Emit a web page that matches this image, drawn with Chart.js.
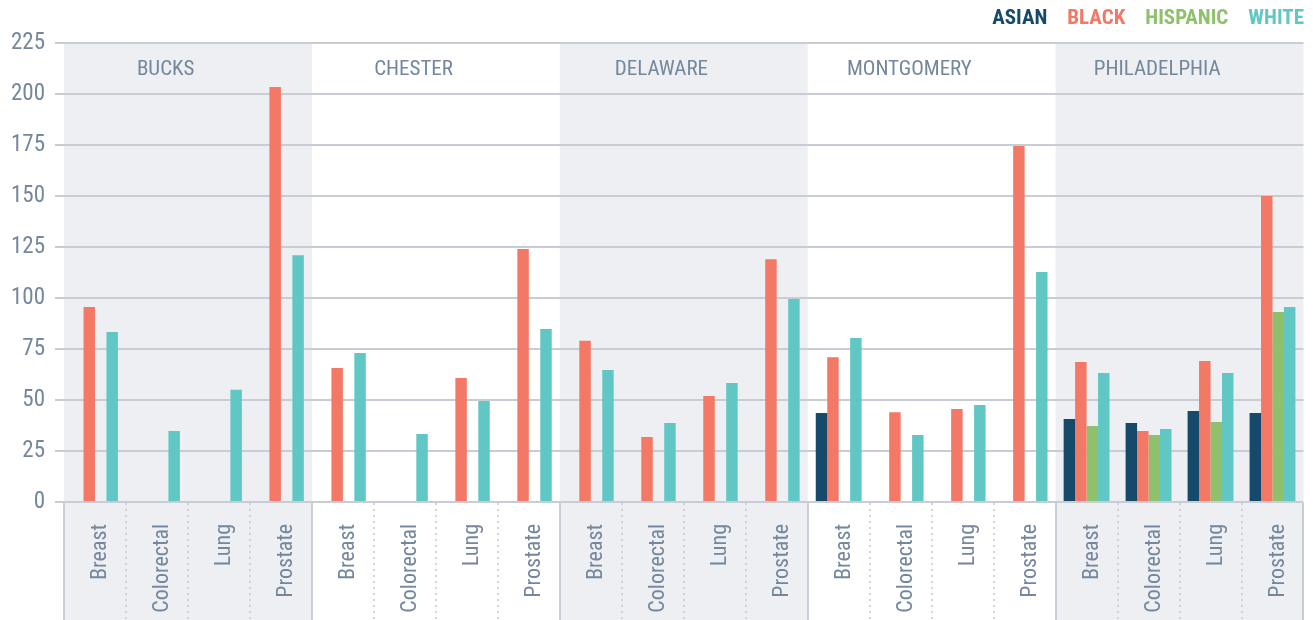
<!DOCTYPE html>
<html lang="en">
<head>
<meta charset="UTF-8">
<title>Cancer incidence by county and race</title>
<script src="https://cdn.jsdelivr.net/npm/chart.js@4.4.0/dist/chart.umd.min.js"></script>
<style>
  body { margin: 0; background: #fff; }
  #wrap { width: 1313px; height: 620px; position: relative; }
</style>
</head>
<body>
<div id="wrap"><canvas id="chart"></canvas></div>
<script>
// data
const counties = ['BUCKS', 'CHESTER', 'DELAWARE', 'MONTGOMERY', 'PHILADELPHIA'];
const cancers = ['Breast', 'Colorectal', 'Lung', 'Prostate'];
const yTicks = [0, 25, 50, 75, 100, 125, 150, 175, 200, 225];

// one value per county/cancer pair, in county order
const asian    = [null, null, null, null,  null, null, null, null,  null, null, null, null,  43.6, null, null, null,  40.7, 38.7, 44.6, 43.6];
const black    = [95.6, null, null, 203.4, 65.7, null, 60.8, 124,   79, 31.9, 52, 119,       71, 44, 45.6, 174.5,     68.6, 34.8, 69.1, 150];
const hispanic = [null, null, null, null,  null, null, null, null,  null, null, null, null,  null, null, null, null,  37.3, 32.8, 39.2, 93.1];
const white    = [83.3, 34.8, 55, 121,     73, 33.3, 49.5, 84.8,    64.7, 38.7, 58.3, 99.5,  80.4, 32.8, 47.5, 112.7, 63.2, 35.8, 63.2, 95.6];

const seriesNames = ['ASIAN', 'BLACK', 'HISPANIC', 'WHITE'];
const seriesColors = ['#154a6a', '#f47866', '#8fc06c', '#60c7c5'];

const labels = [];
counties.forEach(() => cancers.forEach(c => labels.push(c)));

const FONT = "'Roboto Condensed', 'Liberation Sans Narrow', Roboto, sans-serif";
const TEXT = '#75879c';

// shaded county bands, separators, county names and legend
const decor = {
    id: 'decor',
    beforeDraw(chart) {
        const { ctx, chartArea, scales: { x } } = chart;
        const half = (x.getPixelForValue(1) - x.getPixelForValue(0)) / 2;
        ctx.save();
        ctx.fillStyle = '#edeff3';
        counties.forEach((c, i) => {
            if (i % 2) return;
            const l = x.getPixelForValue(i * 4) - half;
            const r = x.getPixelForValue(i * 4 + 3) + half;
            ctx.fillRect(l, chartArea.top, r - l, chart.height - chartArea.top);
        });
        ctx.restore();
    },
    afterDraw(chart) {
        const { ctx, chartArea, scales: { x } } = chart;
        const half = (x.getPixelForValue(1) - x.getPixelForValue(0)) / 2;
        ctx.save();
        // separators below the axis
        for (let k = 0; k <= labels.length; k++) {
            const px = Math.round(k < labels.length ? x.getPixelForValue(k) - half : x.getPixelForValue(k - 1) + half);
            ctx.beginPath();
            if (k % 4 === 0) {
                ctx.strokeStyle = '#b9c1cb';
                ctx.lineWidth = 1.5;
                ctx.setLineDash([]);
            } else {
                ctx.strokeStyle = '#c3c8d0';
                ctx.lineWidth = 1.5;
                ctx.setLineDash([2, 4]);
            }
            ctx.moveTo(px, chartArea.bottom + 1);
            ctx.lineTo(px, chart.height);
            ctx.stroke();
        }
        ctx.setLineDash([]);
        // county names
        ctx.fillStyle = TEXT;
        ctx.font = '21px ' + FONT;
        ctx.textAlign = 'center';
        ctx.textBaseline = 'middle';
        counties.forEach((c, i) => {
            const l = x.getPixelForValue(i * 4) - half;
            const r = x.getPixelForValue(i * 4 + 3) + half;
            ctx.fillText(c, l + (r - l) * 0.41, 70);
        });
        // legend, right aligned
        ctx.font = 'bold 21px ' + FONT;
        ctx.textAlign = 'right';
        let xr = chart.width - 9;
        for (let i = seriesNames.length - 1; i >= 0; i--) {
            ctx.fillStyle = seriesColors[i];
            ctx.fillText(seriesNames[i], xr, 19);
            xr -= ctx.measureText(seriesNames[i]).width + 20;
        }
        ctx.restore();
    }
};

const data = [asian, black, hispanic, white];

new Chart(document.getElementById('chart'), {
    type: 'bar',
    data: {
        labels: labels,
        datasets: data.map((d, i) => ({
            label: seriesNames[i],
            data: d,
            backgroundColor: seriesColors[i],
            categoryPercentage: 0.74,
            barPercentage: 1.0
        }))
    },
    options: {
        responsive: true,
        maintainAspectRatio: false,
        animation: false,
        layout: { padding: { top: 43, right: 4, left: 0, bottom: 0 } },
        plugins: {
            legend: { display: false },
            tooltip: { enabled: false }
        },
        scales: {
            x: {
                grid: { display: false },
                border: { display: false },
                ticks: {
                    color: TEXT,
                    font: { family: FONT, size: 22 },
                    minRotation: 90,
                    maxRotation: 90,
                    padding: 14,
                    labelOffset: 6,
                    autoSkip: false
                },
                afterFit(scale) { scale.height = 118; }
            },
            y: {
                min: 0,
                max: 225,
                afterBuildTicks(scale) { scale.ticks = yTicks.map(v => ({ value: v })); },
                grid: { color: '#c8ccd5', lineWidth: 2, tickLength: 9 },
                border: { display: false },
                ticks: {
                    color: TEXT,
                    font: { family: FONT, size: 23 },
                    padding: 10
                },
                afterFit(scale) { scale.width = 64; }
            }
        }
    },
    plugins: [decor]
});
</script>
</body>
</html>
